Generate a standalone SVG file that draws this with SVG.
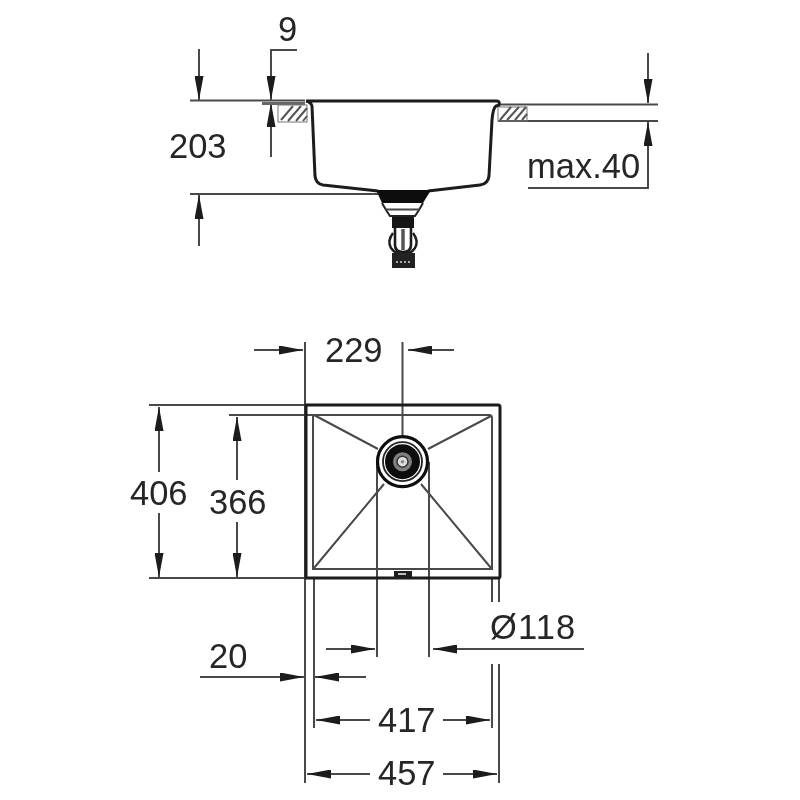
<svg xmlns="http://www.w3.org/2000/svg" width="800" height="800" viewBox="0 0 800 800">
<style>
.l{stroke:#4a4a4a;stroke-width:2;fill:none}
.k{stroke:#1c1c1c;stroke-width:3;fill:none}
.h{stroke:#555;stroke-width:2;fill:none}
.a{fill:#1a1a1a;stroke:none}
text{font-family:"Liberation Sans",Arial,sans-serif;font-size:34.5px;fill:#262626}
</style>
<defs>
<filter id="b" x="-5%" y="-5%" width="110%" height="110%"><feGaussianBlur stdDeviation="0.45"/></filter>
<marker id="ah" viewBox="0 0 24 9" refX="24" refY="4.5" markerWidth="24" markerHeight="9" markerUnits="userSpaceOnUse" orient="auto"><path class="a" d="M0 0L24 4.5L0 9Z"/></marker>
</defs>
<rect width="800" height="800" fill="#fff"/>
<g filter="url(#b)">
<g id="connectors">
<path class="l" d="M190 100.500H305M190 194H378"/>
<path class="l" d="M199 49V100" marker-end="url(#ah)"/>
<path class="l" d="M199 246V195" marker-end="url(#ah)"/>
<path class="l" d="M297 50H271V100" marker-end="url(#ah)"/>
<path class="l" d="M271 157V103" marker-end="url(#ah)"/>
<path class="l" d="M500 104.500H658M498 121H658"/>
<path class="l" d="M648 53V103" marker-end="url(#ah)"/>
<path class="l" d="M528 188H648V122" marker-end="url(#ah)"/>
<path class="l" d="M305 342V783M402.500 342V437M377 462V657M429 462V657M314 578V728M492 578V602M492 664V728M499 578V602M499 664V783"/>
<path class="l" d="M254 350H303" marker-end="url(#ah)"/>
<path class="l" d="M454 350H408" marker-end="url(#ah)"/>
<path class="l" d="M149 405H305M149 578H305M229 415H313"/>
<path class="l" d="M159 472V407" marker-end="url(#ah)"/>
<path class="l" d="M159 513V577" marker-end="url(#ah)"/>
<path class="l" d="M237 480V417" marker-end="url(#ah)"/>
<path class="l" d="M237 522V577" marker-end="url(#ah)"/>
<path class="l" d="M326 649H375" marker-end="url(#ah)"/>
<path class="l" d="M584 649H433" marker-end="url(#ah)"/>
<path class="l" d="M200 677H304" marker-end="url(#ah)"/>
<path class="l" d="M366 677H315" marker-end="url(#ah)"/>
<path class="l" d="M370 720H316" marker-end="url(#ah)"/>
<path class="l" d="M443 720H490" marker-end="url(#ah)"/>
<path class="l" d="M370 774H307" marker-end="url(#ah)"/>
<path class="l" d="M443 774H497" marker-end="url(#ah)"/>
</g>
<g id="section">
<path d="M262 103.500H305" stroke="#666" stroke-width="3" fill="none"/>
<rect x="278" y="105" width="29" height="17" fill="none" stroke="#777" stroke-width="1"/>
<path class="h" d="M281 120L293 106M288 121L301 106M296 121L307 108M303 121L307 116"/>
<rect x="498" y="107" width="29" height="14" fill="none" stroke="#777" stroke-width="1"/>
<path class="h" d="M500 120L511 107M507 120L519 107M515 120L526 107M522 120L527 114"/>
<path class="k" d="M306 101H497Q500 101 499 105L496 106Q493 108 492 120L489 176Q488 184 480 185L428 191M306 101Q311 102 312 106L315 176Q316 184 323 185L378 191"/>
</g>
<g id="drain">
<path d="M376 190H431L423 203H382Z" fill="#111"/>
<path d="M382 203L386 210L390 216H415L419 210L423 203" fill="#fff" stroke="#222" stroke-width="2"/>
<path d="M385 209.500H420" stroke="#444" stroke-width="2"/>
<rect x="392" y="217" width="22" height="11" fill="#151515"/>
<path d="M395 228V245Q395 252 403 252Q411 252 411 245V228" fill="#fff" stroke="#1a1a1a" stroke-width="2.600"/>
<path d="M403 229V250" stroke="#555" stroke-width="3.500"/>
<path d="M393 233Q387 241 391 248Q395 254 403 254Q411 254 415 248Q419 241 413 233" fill="none" stroke="#1a1a1a" stroke-width="2.400"/>
<rect x="392" y="253" width="23" height="15" fill="#222"/>
<path d="M396 262H411" stroke="#aaa" stroke-width="2" stroke-dasharray="2 2"/>
</g>
<g id="plan">
<path class="k" d="M306 405H498Q500 405 500 407V576Q500 578 498 578H306Z"/>
<path class="l" d="M313 416V569H492V418Q492 415 489 415H313M314 415L378 449M491 416L428 449M314 568L384 484M491 568L421 484"/>
<rect x="394" y="571" width="18" height="7" fill="#1a1a1a"/>
<rect x="398" y="573" width="8" height="2" fill="#bbb"/>
</g>
<g id="drain-plan">
<circle cx="402.500" cy="461.700" r="25" fill="#fff" stroke="#111" stroke-width="3.200"/>
<circle cx="402.500" cy="461.700" r="19.500" fill="#fff" stroke="#222" stroke-width="1.800"/>
<circle cx="402.500" cy="461.700" r="13.500" fill="#808080" stroke="#111" stroke-width="8"/>
<circle cx="402.500" cy="461.700" r="5.500" fill="#ddd" stroke="#333" stroke-width="1.500"/>
<circle cx="402.500" cy="461.700" r="1.800" fill="#888"/>
</g>
<g id="labels">
<text x="278" y="41">9</text>
<text x="169" y="158">203</text>
<text x="527" y="178">max.40</text>
<text x="325" y="362">229</text>
<text x="130" y="505">406</text>
<text x="209" y="514">366</text>
<text x="490" y="639" letter-spacing="1.100">Ø118</text>
<text x="209" y="668">20</text>
<text x="378" y="732">417</text>
<text x="378" y="785">457</text>
</g>
</g>
</svg>
